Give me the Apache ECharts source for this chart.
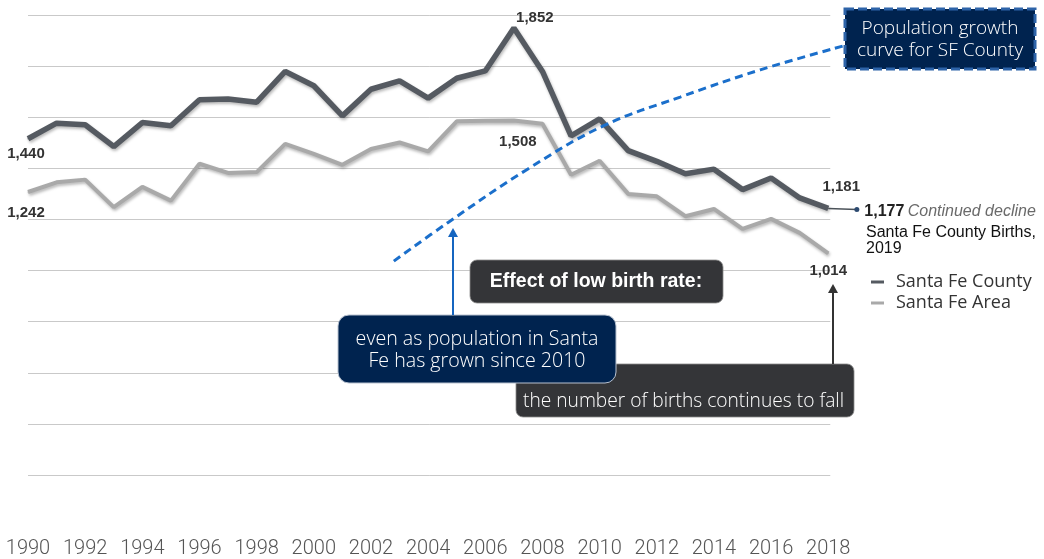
<!DOCTYPE html>
<html>
<head>
<meta charset="utf-8">
<script src="https://cdn.jsdelivr.net/npm/echarts@6/dist/echarts.min.js"></script>
<style>
  html, body { margin: 0; padding: 0; background: #ffffff; }
  #chart { width: 1044px; height: 559px; }
</style>
</head>
<body>
<div id="chart"></div>
<script>
// Annual births, Santa Fe County vs. the wider Santa Fe area
const years = [1990, 1991, 1992, 1993, 1994, 1995, 1996, 1997, 1998, 1999,
               2000, 2001, 2002, 2003, 2004, 2005, 2006, 2007, 2008, 2009,
               2010, 2011, 2012, 2013, 2014, 2015, 2016, 2017, 2018];
const countyBirths = [1440, 1498, 1492, 1411, 1500, 1488, 1585, 1588, 1576, 1690,
                      1637, 1525, 1624, 1655, 1591, 1665, 1692, 1852, 1690, 1451,
                      1514, 1396, 1356, 1310, 1327, 1251, 1294, 1220, 1181];
const areaBirths = [1242, 1278, 1288, 1186, 1261, 1210, 1347, 1313, 1316, 1421,
                    1384, 1343, 1402, 1426, 1393, 1505, 1507, 1508, 1496, 1306,
                    1358, 1235, 1226, 1152, 1179, 1105, 1142, 1090, 1014];
// Latest county figure (2019)
const latestYear = 2019;
const latestCountyBirths = 1177;
// Population growth trend drawn across the birth lines
const popCurveYears = [2002.8, 2004.7, 2007.45, 2010.13, 2012.82, 2015.62, 2018.53];
const popCurveLevel = [985, 1129, 1325, 1488, 1595, 1696, 1785];
// Axis ticks: labelled years run 1990-2018; the plot keeps room on the right for 2019
const yearTicks = { min: 1990, lastLabel: 2018, max: 2019.6, step: 2 };
const countTicks = { min: 190, max: 1900, step: 190 };
const gridValues = [190, 380, 570, 760, 950, 1140, 1330, 1520, 1710, 1900];

const LABEL_FONT = '"Liberation Sans Narrow", "Liberation Sans", Arial, sans-serif';
const TEXT_FONT = '"Open Sans", Roboto, "Liberation Sans", Arial, sans-serif';
const AXIS_FONT = 'Roboto, "Liberation Sans", Arial, sans-serif';
const fmt = v => v.toLocaleString('en-US');

function valueLabel(position, offset) {
  return {
    show: true, position, offset, distance: 4,
    formatter: p => fmt(p.value[1]),
    fontFamily: LABEL_FONT, fontWeight: 'bold', fontSize: 15, color: '#333333'
  };
}

// which points carry a value label, and where it sits
const countyLabels = {
  1990: valueLabel('bottom', [-2, 3]),
  2007: valueLabel('top', [21, 2]),
  2018: valueLabel('top', [13, -10])
};
const areaLabels = {
  1990: valueLabel('bottom', [-2, 9]),
  2007: valueLabel('bottom', [4, 9]),
  2018: valueLabel('bottom', [0, 6])
};

function buildSeriesData(values, labels) {
  return values.map((v, i) => {
    const item = { value: [years[i], v] };
    if (labels[years[i]]) item.label = labels[years[i]];
    return item;
  });
}

const lineShadow = { shadowColor: 'rgba(0,0,0,0.28)', shadowBlur: 3, shadowOffsetX: 1, shadowOffsetY: 2 };

const chart = echarts.init(document.getElementById('chart'), null, { renderer: 'canvas' });

function arrow(x, yFrom, yTip, color) {
  return [
    { type: 'line', shape: { x1: x, y1: yFrom, x2: x, y2: yTip + 7 },
      style: { stroke: color, lineWidth: 2 }, z: 50 },
    { type: 'polygon', shape: { points: [[x, yTip], [x - 5, yTip + 9], [x + 5, yTip + 9]] },
      style: { fill: color }, z: 50 }
  ];
}

// horizontal guide lines spanning the labelled years only
const gridLines = {
  silent: true, symbol: 'none', z: 1, animation: false,
  label: { show: false },
  lineStyle: { color: '#c9c9c9', width: 1, type: 'solid' },
  emphasis: { disabled: true },
  data: gridValues.map(v => [
    { coord: [yearTicks.min, v] },
    { coord: [yearTicks.lastLabel + 0.07, v] }
  ])
};

chart.setOption({
  animation: false,
  backgroundColor: '#ffffff',
  grid: { left: 28, right: 170, top: 15, bottom: 83, containLabel: false },
  xAxis: {
    type: 'value',
    min: yearTicks.min, max: yearTicks.max, interval: yearTicks.step,
    axisLine: { show: false }, axisTick: { show: false }, splitLine: { show: false },
    axisLabel: {
      margin: 64, showMaxLabel: false,
      formatter: v => (v <= yearTicks.lastLabel && (v - yearTicks.min) % yearTicks.step === 0) ? String(v) : '',
      fontFamily: AXIS_FONT, fontWeight: 300, fontSize: 20, color: '#555555'
    }
  },
  yAxis: {
    type: 'value',
    min: countTicks.min, max: countTicks.max, interval: countTicks.step,
    axisLine: { show: false }, axisTick: { show: false }, axisLabel: { show: false },
    splitLine: { show: false }
  },
  legend: {
    data: ['Santa Fe County', 'Santa Fe Area'],
    orient: 'vertical', left: 866, top: 268,
    icon: 'rect', itemWidth: 13, itemHeight: 3, itemGap: 3,
    textStyle: { fontFamily: TEXT_FONT, fontSize: 18, color: '#333333', padding: [0, 0, 0, 7] }
  },
  series: [
    {
      name: 'Santa Fe Area', type: 'line', z: 3,
      data: buildSeriesData(areaBirths, areaLabels),
      symbol: 'circle', symbolSize: 1, showAllSymbol: true, color: '#a9a9a9',
      lineStyle: Object.assign({ color: '#a9a9a9', width: 4 }, lineShadow),
      markLine: gridLines
    },
    {
      name: 'Santa Fe County', type: 'line', z: 4,
      data: buildSeriesData(countyBirths, countyLabels),
      symbol: 'circle', symbolSize: 1, showAllSymbol: true, color: '#555a61',
      lineStyle: Object.assign({ color: '#555a61', width: 5.5 }, lineShadow)
    },
    {
      name: 'latest', type: 'line', z: 4,
      data: [
        { value: [years[years.length - 1], countyBirths[countyBirths.length - 1]], symbolSize: 0 },
        {
          value: [latestYear, latestCountyBirths], symbolSize: 5,
          label: {
            show: true, position: 'right', distance: 5, offset: [0, 2],
            formatter: p => '{b|' + fmt(p.value[1]) + '} {i|Continued decline}',
            rich: {
              b: { fontFamily: '"Liberation Sans", Arial, sans-serif', fontWeight: 'bold', fontSize: 16, color: '#222222' },
              i: { fontFamily: '"Liberation Sans", Arial, sans-serif', fontStyle: 'italic', fontSize: 16, color: '#6a6a6a' }
            }
          }
        }
      ],
      symbol: 'circle', itemStyle: { color: '#2c4a70' },
      lineStyle: { color: '#4b5259', width: 1.5 }
    },
    {
      name: 'population', type: 'line', z: 5, smooth: 0.4,
      data: popCurveYears.map((y, i) => [y, popCurveLevel[i]]),
      symbol: 'none',
      lineStyle: { color: '#1b6fcb', width: 3, type: [8, 5] }
    }
  ],
  graphic: [
    // caption under the 2019 figure
    { type: 'text', left: 866, top: 225, z: 50,
      style: { text: 'Santa Fe County Births,\n2019', font: '16px "Liberation Sans", Arial, sans-serif',
               fill: '#111111', lineHeight: 16 } },
    // callout: population growth curve
    { type: 'rect', shape: { x: 845, y: 9, width: 190, height: 60 }, z: 40,
      style: { fill: '#00234f', stroke: '#2d63a8', lineWidth: 3, lineDash: [9, 4] } },
    { type: 'text', x: 940, y: 40, z: 41,
      style: { text: 'Population growth\ncurve for SF County', align: 'center', verticalAlign: 'middle',
               font: '300 19px ' + TEXT_FONT, fill: '#ffffff', lineHeight: 22 } },
    // arrows
    ...arrow(453, 315, 228, '#1565c0'),
    ...arrow(833, 364, 284, '#333333'),
    // effect box
    { type: 'rect', shape: { x: 470, y: 260, width: 253, height: 43, r: 7 }, z: 40,
      style: { fill: '#343538', stroke: '#8a8a8a', lineWidth: 0.8 } },
    { type: 'text', x: 596, y: 282, z: 41,
      style: { text: 'Effect of low birth rate:', align: 'center', verticalAlign: 'middle',
               font: 'bold 19.5px "Liberation Sans", Arial, sans-serif', fill: '#ffffff' } },
    // births keep falling
    { type: 'rect', shape: { x: 516, y: 364, width: 338, height: 53, r: 7 }, z: 40,
      style: { fill: '#343538', stroke: '#8a8a8a', lineWidth: 0.8 } },
    { type: 'text', x: 523, y: 402, z: 41,
      style: { text: 'the number of births continues to fall', align: 'left', verticalAlign: 'middle',
               font: '300 19.2px ' + TEXT_FONT, fill: '#ffffff' } },
    // population grew
    { type: 'rect', shape: { x: 338, y: 315, width: 278, height: 68, r: 11 }, z: 42,
      style: { fill: '#00234f', stroke: '#b8c2d0', lineWidth: 1 } },
    { type: 'text', x: 477, y: 350, z: 43,
      style: { text: 'even as population in Santa\nFe has grown since 2010', align: 'center', verticalAlign: 'middle',
               font: '300 19.6px ' + TEXT_FONT, fill: '#ffffff', lineHeight: 22 } }
  ]
});
</script>
</body>
</html>
